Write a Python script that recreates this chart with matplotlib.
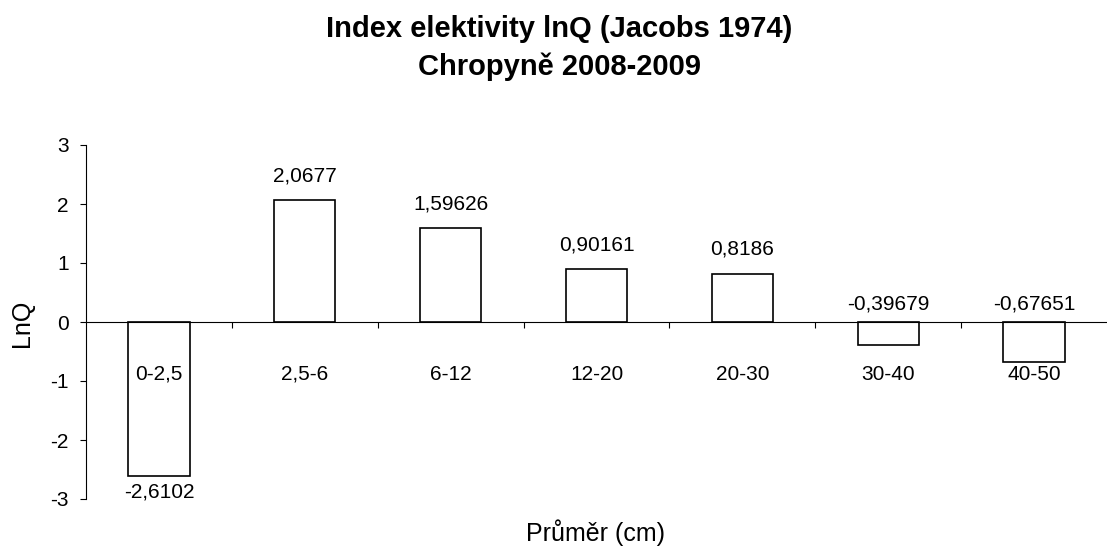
#!/usr/bin/env python3
# -*- coding: utf-8 -*-

"""Index elektivity lnQ bar chart."""

import matplotlib
matplotlib.use("Agg")
import matplotlib.pyplot as plt

CATEGORIES = ["0-2,5", "2,5-6", "6-12", "12-20", "20-30", "30-40", "40-50"]
VALUES = [-2.6102, 2.0677, 1.59626, 0.90161, 0.8186, -0.39679, -0.67651]
Y_TICKS = [-3, -2, -1, 0, 1, 2, 3]

plt.rcParams["font.family"] = ["Liberation Sans", "DejaVu Sans"]


def main():
    """Draw chart."""
    fig = plt.figure(figsize=(11.07, 5.55), dpi=100)
    ax = fig.add_axes([86 / 1107, 56 / 555, 1021 / 1107, 354 / 555])
    xs = list(range(len(CATEGORIES)))
    ax.bar(xs, VALUES, width=0.42, color="white", edgecolor="black",
           linewidth=1.2, zorder=3)
    ax.set_xlim(-0.5, len(CATEGORIES) - 0.5)
    ax.set_ylim(-3, 3)
    ax.set_yticks(Y_TICKS)
    ax.set_yticklabels([str(t) for t in Y_TICKS])
    ax.tick_params(axis="y", direction="out", length=4.5, width=0.8,
                   labelsize=15, pad=8)
    # category separators as ticks on the zero line
    ax.set_xticks([i + 0.5 for i in xs[:-1]])
    ax.set_xticklabels([])
    ax.tick_params(axis="x", direction="out", length=4.5, width=0.8)
    ax.spines["top"].set_visible(False)
    ax.spines["right"].set_visible(False)
    ax.spines["bottom"].set_position(("data", 0))
    ax.spines["bottom"].set_zorder(4)
    for sp in ("left", "bottom"):
        ax.spines[sp].set_linewidth(0.8)
    ax.patch.set_visible(False)

    for x, cat in zip(xs, CATEGORIES):
        ax.annotate(cat, (x, 0), xytext=(0, -41.5), textcoords="offset points",
                    ha="center", va="baseline", fontsize=15, zorder=5)
    for x, v in zip(xs, VALUES):
        txt = str(v).replace(".", ",")
        if v >= 0:
            ax.annotate(txt, (x, v), xytext=(0, 13.5), textcoords="offset points",
                        ha="center", va="baseline", fontsize=15)
        elif v < -1:
            ax.annotate(txt, (x, v), xytext=(0, -15.5), textcoords="offset points",
                        ha="center", va="baseline", fontsize=15)
        else:
            ax.annotate(txt, (x, 0), xytext=(0, 9), textcoords="offset points",
                        ha="center", va="baseline", fontsize=15)

    fig.text(0.505, 1 - 37 / 555, "Index elektivity lnQ (Jacobs 1974)",
             ha="center", va="baseline", fontsize=21, fontweight="bold")
    fig.text(0.505, 1 - 75 / 555, "Chropyně 2008-2009",
             ha="center", va="baseline", fontsize=21, fontweight="bold")
    fig.text(596 / 1107, 1 - 533 / 555, "Průměr (cm)", ha="center",
             va="center", fontsize=18)
    fig.text(22 / 1107, 1 - 323 / 555, "LnQ", ha="center", va="center",
             rotation=90, fontsize=18)
    fig.savefig("out.png", dpi=100)


if __name__ == "__main__":
    main()
